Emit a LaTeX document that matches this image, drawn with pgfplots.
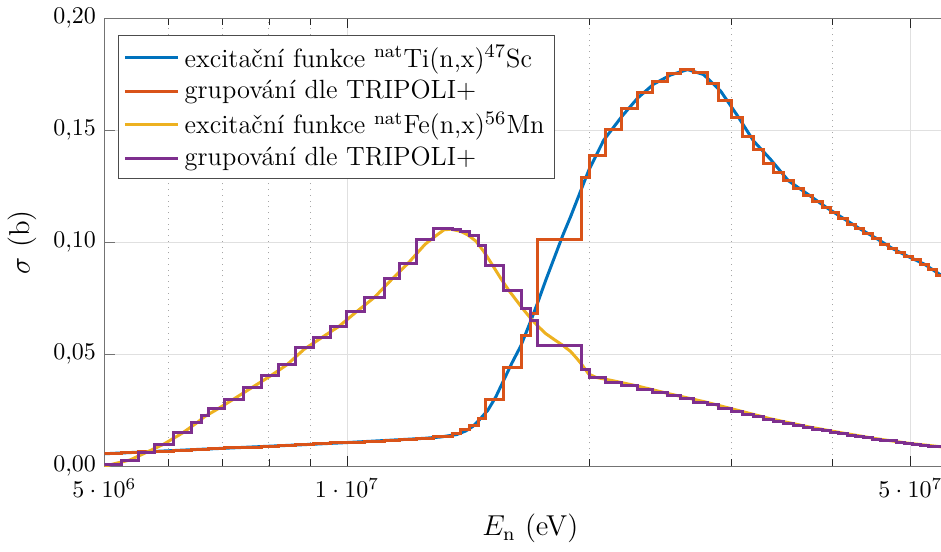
\documentclass[border=0pt]{standalone}
\usepackage{fontspec}
\usepackage{pgfplots}
\pgfplotsset{compat=1.18}
\definecolor{mblue}{rgb}{0,0.447,0.741}
\definecolor{morange}{rgb}{0.85,0.325,0.098}
\definecolor{myellow}{rgb}{0.929,0.694,0.125}
\definecolor{mpurple}{rgb}{0.494,0.184,0.556}
\begin{document}
\begin{tikzpicture}
\begin{axis}[
  scale only axis, width=355.3pt, height=187pt,
  xmode=log, xmin=5e6, xmax=5.7e7, ymin=0, ymax=0.2,
  xtick={5e6,1e7,5e7},
  xticklabels={$5\cdot10^{6}$,$1\cdot10^{7}$,$5\cdot10^{7}$},
  xticklabel style={yshift=-1.5pt},
  minor xtick={6e6,7e6,8e6,9e6,2e7,3e7,4e7},
  ytick={0,0.05,0.1,0.15,0.2},
  yticklabel style={/pgf/number format/.cd, fixed, fixed zerofill, precision=2, use comma},
  xmajorgrids, ymajorgrids, xminorgrids,
  major grid style={black!12, solid},
  minor grid style={black!35, dotted},
  tick align=inside,
  x axis line style={black!85},
  y axis line style={black!55},
  xtick style={black!85},
  ytick style={black!55},
  xlabel={$E_{\mathrm{n}}$ (eV)}, ylabel={$\sigma$ (b)},
  label style={font=\fontsize{12}{14}\selectfont},
  legend style={at={(0.0165,0.962)}, anchor=north west, draw=black!70, cells={anchor=west}, inner sep=2pt, font=\fontsize{11}{13.5}\selectfont},
  legend image code/.code={\draw[#1] (0cm,0cm) -- (0.78cm,0cm);},
  every axis plot/.append style={line width=1.25pt},
]
\addplot[mblue] coordinates {
(5.0e6,0.0056) (6.595e6,0.0076) (8.772e6,0.0096) (1.0e7,0.0106) (1.1668e7,0.0119)
(1.2495e7,0.0125) (1.3079e7,0.0131) (1.3690e7,0.0142) (1.4046e7,0.0158) (1.4329e7,0.0178)
(1.4577e7,0.0205) (1.4956e7,0.0250) (1.5301e7,0.0310) (1.5654e7,0.0385) (1.6016e7,0.0460)
(1.6432e7,0.0537) (1.6908e7,0.0649) (1.7249e7,0.0731) (1.7647e7,0.0830) (1.8055e7,0.0924)
(1.8524e7,0.1030) (1.8952e7,0.1115) (1.9556e7,0.1240) (1.9951e7,0.1320) (2.0823e7,0.1455)
(2.1921e7,0.1560) (2.2944e7,0.1643) (2.4016e7,0.1705) (2.5210e7,0.1746) (2.6463e7,0.1770)
(2.7699e7,0.1748) (2.9075e7,0.1675) (3.0520e7,0.1564) (3.1946e7,0.1452) (3.3534e7,0.1370)
(3.5302e7,0.1274) (3.7375e7,0.1212) (3.9345e7,0.1155) (4.1301e7,0.1106) (4.3230e7,0.1061)
(4.5378e7,0.1017) (4.7498e7,0.0972) (4.9717e7,0.0936) (5.2039e7,0.0902) (5.4625e7,0.0852)
(5.7e7,0.0815)
};
\addlegendentry{excitační funkce $^{\mathrm{nat}}$Ti(n,x)$^{47}$Sc}
\addplot[morange, const plot] coordinates {
(5.000e6,0.0057) (5.248e6,0.0060) (5.510e6,0.0064) (5.767e6,0.0067) (6.087e6,0.0071)
(6.409e6,0.0074) (6.595e6,0.0076) (6.728e6,0.0079) (7.042e6,0.0082) (7.434e6,0.0086)
(7.825e6,0.0090) (8.215e6,0.0093) (8.623e6,0.0097) (9.078e6,0.0101) (9.528e6,0.0104)
(1.0e7,0.0108) (1.0528e7,0.0112) (1.1116e7,0.0116) (1.1603e7,0.0120) (1.2180e7,0.0126)
(1.2822e7,0.0135) (1.3536e7,0.0147) (1.3849e7,0.0162) (1.4209e7,0.0180) (1.4578e7,0.0215)
(1.4872e7,0.0299) (1.5656e7,0.0441) (1.6481e7,0.0585) (1.6909e7,0.0683) (1.7250e7,0.1013)
(1.9557e7,0.1289) (2.0e7,0.1385) (2.0944e7,0.1504) (2.1922e7,0.1597) (2.2945e7,0.1668)
(2.3950e7,0.1717) (2.5e7,0.1754) (2.594e7,0.1772) (2.6924e7,0.1757) (2.8022e7,0.1708)
(2.8916e7,0.1631) (3.0e7,0.1557) (3.0965e7,0.1472) (3.1954e7,0.1412) (3.2879e7,0.1353)
(3.3830e7,0.1311) (3.4809e7,0.1274) (3.5816e7,0.1240) (3.6852e7,0.1210) (3.7808e7,0.1182)
(3.8902e7,0.1155) (3.98e7,0.1132) (4.072e7,0.1106) (4.1776e7,0.1080) (4.2742e7,0.1061)
(4.3730e7,0.1040) (4.4868e7,0.1017) (4.5905e7,0.0991) (4.6965e7,0.0972) (4.805e7,0.0954)
(4.9152e7,0.0936) (5.0286e7,0.0921) (5.145e7,0.0902) (5.2636e7,0.0879) (5.385e7,0.0853)
(5.509e7,0.0835) (5.7e7,0.0835)
};
\addlegendentry{grupování dle TRIPOLI+}
\addplot[myellow] coordinates {
(5.0e6,0.0000) (5.123e6,0.0010) (5.377e6,0.0028) (5.637e6,0.0062) (5.925e6,0.0099)
(6.246e6,0.0148) (6.501e6,0.0192) (6.660e6,0.0222) (6.883e6,0.0252) (7.235e6,0.0300)
(7.627e6,0.0352) (8.018e6,0.0401) (8.416e6,0.0452) (8.847e6,0.0522) (9.300e6,0.0574)
(9.762e6,0.0623) (1.0262e7,0.0688) (1.0818e7,0.0754) (1.1356e7,0.0833) (1.1887e7,0.0903)
(1.2495e7,0.0990) (1.2820e7,0.1022) (1.3191e7,0.1055) (1.3457e7,0.1058) (1.3847e7,0.1048)
(1.4126e7,0.1032) (1.4452e7,0.1005) (1.4786e7,0.0958) (1.5171e7,0.0895) (1.5521e7,0.0838)
(1.5879e7,0.0785) (1.6292e7,0.0732) (1.6621e7,0.0692) (1.6908e7,0.0660) (1.7249e7,0.0626)
(1.7647e7,0.0592) (1.8055e7,0.0567) (1.8524e7,0.0540) (1.8952e7,0.0512) (1.9279e7,0.0482)
(1.9556e7,0.0455) (1.9951e7,0.0412) (2.0353e7,0.0397) (2.1365e7,0.0382) (2.2944e7,0.0358)
(2.5210e7,0.0322) (2.7699e7,0.0289) (3.0520e7,0.0250) (3.3534e7,0.0212) (3.7375e7,0.0176)
(4.1301e7,0.0148) (4.5378e7,0.0123) (4.9717e7,0.0103) (5.4625e7,0.0087) (5.7e7,0.0082)
};
\addlegendentry{excitační funkce $^{\mathrm{nat}}$Fe(n,x)$^{56}$Mn}
\addplot[mpurple, const plot] coordinates {
(5.000e6,0.0009) (5.248e6,0.0027) (5.510e6,0.0061) (5.767e6,0.0098) (6.087e6,0.0149)
(6.409e6,0.0195) (6.595e6,0.0227) (6.728e6,0.0258) (7.042e6,0.0299) (7.434e6,0.0351)
(7.825e6,0.0403) (8.215e6,0.0455) (8.623e6,0.0532) (9.078e6,0.0575) (9.528e6,0.0622)
(1.0e7,0.0689) (1.0528e7,0.0753) (1.1116e7,0.0838) (1.1603e7,0.0905) (1.2180e7,0.1013)
(1.2822e7,0.1061) (1.3536e7,0.1055) (1.3849e7,0.1046) (1.4209e7,0.1028) (1.4578e7,0.0987)
(1.4872e7,0.0897) (1.5656e7,0.0783) (1.6481e7,0.0702) (1.6909e7,0.0651) (1.7250e7,0.0537)
(1.9557e7,0.0433) (2.0e7,0.0398) (2.0944e7,0.0376) (2.1922e7,0.0359) (2.2945e7,0.0341)
(2.3950e7,0.0329) (2.5e7,0.0317) (2.594e7,0.0302) (2.6924e7,0.0284) (2.8022e7,0.0274)
(2.8916e7,0.0258) (3.0e7,0.0244) (3.0965e7,0.0232) (3.1954e7,0.0222) (3.2879e7,0.0210)
(3.3830e7,0.0198) (3.4809e7,0.0191) (3.5816e7,0.0180) (3.6852e7,0.0173) (3.7808e7,0.0165)
(3.8902e7,0.0161) (3.98e7,0.0153) (4.072e7,0.0147) (4.1776e7,0.0138) (4.2742e7,0.0133)
(4.3730e7,0.0128) (4.4868e7,0.0121) (4.5905e7,0.0116) (4.6965e7,0.0113) (4.805e7,0.0106)
(4.9152e7,0.0101) (5.0286e7,0.0098) (5.145e7,0.0094) (5.2636e7,0.0090) (5.385e7,0.0088)
(5.509e7,0.0085) (5.7e7,0.0085)
};
\addlegendentry{grupování dle TRIPOLI+}
\coordinate (R) at (axis cs:5.46e7,0);
\end{axis}
\coordinate (BBSW) at (current bounding box.south west);
\coordinate (BBNE) at (current bounding box.north east);
\pgfresetboundingbox
\path[use as bounding box] (BBSW) rectangle (R |- BBNE);
\end{tikzpicture}
\end{document}
